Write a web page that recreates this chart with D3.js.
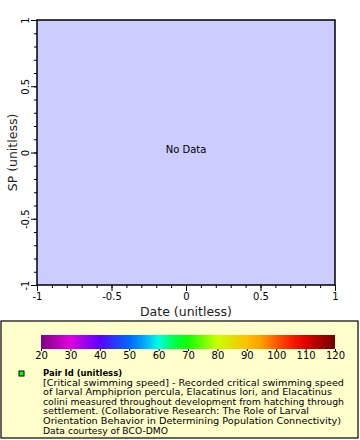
<!DOCTYPE html>
<html><head><meta charset="utf-8">
<script src="https://cdn.jsdelivr.net/npm/d3@7"></script>
<style>body{margin:0;background:#fff}svg{display:block;font-family:"DejaVu Sans",sans-serif}</style>
</head><body><svg id="c" width="360" height="440"></svg>
<script>
const xTicks = [-1, -0.5, 0, 0.5, 1];
const yTicks = [-1, -0.5, 0, 0.5, 1];
const xDomain = [-1, 1];
const yDomain = [-1, 1];
const xLabel = "Date (unitless)";
const yLabel = "SP (unitless)";
const noDataText = "No Data";
const cbTicks = [20, 30, 40, 50, 60, 70, 80, 90, 100, 110, 120];
const cbStopValues = [20, 30, 40, 45, 50, 55, 60, 65, 70, 80, 85, 90, 95, 100, 105, 110, 120];
const cbStopColors = ["#800080", "#e000e0", "#5a00ff", "#2838ff", "#0066ff", "#00a8ff", "#00ffe0", "#00ff50", "#10ff00", "#ccff00", "#e0e000", "#ffc000", "#ff9c00", "#ff5a00", "#f82000", "#e00000", "#700000"];
const legendTitle = "Pair Id (unitless)";
const legendLines = [
  "[Critical swimming speed] - Recorded critical swimming speed",
  "of larval Amphiprion percula, Elacatinus lori, and Elacatinus",
  "colini measured throughout development from hatching through",
  "settlement. (Collaborative Research: The Role of Larval",
  "Orientation Behavior in Determining Population Connectivity)",
  "Data courtesy of BCO-DMO"
];
const legendLineWidths = [301, 289, 301, 266, 298, 125];

const fmt = d => String(d);
const svg = d3.select("#c");
const L = 37, R = 335, T = 20, B = 285;
const x = d3.scaleLinear().domain(xDomain).range([L, R]);
const y = d3.scaleLinear().domain(yDomain).range([B, T]);

svg.append("rect").attr("x", L).attr("y", T).attr("width", R - L).attr("height", B - T)
  .attr("fill", "#ccccff");

const xMinor = d3.range(-10, 11).map(i => i / 10);
const yMinor = d3.range(-10, 11).map(i => i / 10);
const gx = svg.append("g").attr("transform", `translate(0,${B})`)
  .call(d3.axisBottom(x).tickValues(xMinor).tickSize(3).tickFormat(""));
const gy = svg.append("g").attr("transform", `translate(${L},0)`)
  .call(d3.axisLeft(y).tickValues(yMinor).tickSize(3).tickFormat(""));
[gx, gy].forEach(g => { g.select(".domain").remove(); g.selectAll("line").attr("stroke", "#000"); });

const gxM = svg.append("g").attr("transform", `translate(0,${B})`)
  .call(d3.axisBottom(x).tickValues(xTicks).tickSize(6).tickPadding(2).tickFormat(fmt));
gxM.select(".domain").remove();
gxM.selectAll("line").attr("stroke", "#000");
gxM.selectAll("text").attr("font-size", 10).attr("font-family", "DejaVu Sans").attr("fill", "#000");

const gyM = svg.append("g").attr("transform", `translate(${L},0)`)
  .call(d3.axisLeft(y).tickValues(yTicks).tickSize(6).tickPadding(2).tickFormat(fmt));
gyM.select(".domain").remove();
gyM.selectAll("line").attr("stroke", "#000");
gyM.selectAll("text").attr("font-size", 10).attr("font-family", "DejaVu Sans").attr("fill", "#000")
  .attr("x", null).attr("dy", null)
  .attr("text-anchor", "middle")
  .attr("transform", "translate(-12,0) rotate(-90)")
  .attr("y", 0).attr("dy", "0.35em");

svg.append("rect").attr("x", L).attr("y", T).attr("width", R - L).attr("height", B - T)
  .attr("fill", "none").attr("stroke", "#000").attr("stroke-width", 1.5);

svg.append("text").attr("x", (L + R) / 2).attr("y", 316).attr("text-anchor", "middle")
  .attr("font-size", 12.5).attr("fill", "#222").text(xLabel);
svg.append("text").attr("transform", `translate(17,${(T + B) / 2}) rotate(-90)`).attr("text-anchor", "middle")
  .attr("font-size", 12.5).attr("fill", "#222").text(yLabel);
svg.append("text").attr("x", (L + R) / 2).attr("y", 153).attr("text-anchor", "middle")
  .attr("font-size", 10).text(noDataText);

// legend
svg.append("rect").attr("x", 1).attr("y", 321).attr("width", 357).attr("height", 117)
  .attr("fill", "#ffffcc").attr("stroke", "#000").attr("stroke-width", 1.2);

const cb = d3.scaleLinear().domain([20, 120]).range([41, 335]);
const grad = svg.append("defs").append("linearGradient").attr("id", "cbg")
  .attr("x1", "0%").attr("x2", "100%");
cbStopValues.forEach((v, i) => {
  grad.append("stop").attr("offset", ((v - 20) / 100 * 100) + "%").attr("stop-color", cbStopColors[i]);
});
svg.append("rect").attr("x", cb(20)).attr("y", 335).attr("width", cb(120) - cb(20)).attr("height", 14)
  .attr("fill", "url(#cbg)");
const gcb = svg.append("g").attr("transform", "translate(0,349)")
  .call(d3.axisBottom(cb).tickValues(cbTicks).tickSize(2).tickPadding(1).tickFormat(fmt));
gcb.select(".domain").remove();
gcb.selectAll("line").attr("stroke", "#000");
gcb.selectAll("text").attr("font-size", 10).attr("font-family", "DejaVu Sans").attr("fill", "#000");

svg.append("rect").attr("x", 19).attr("y", 371).attr("width", 5).attr("height", 5)
  .attr("fill", "#00ff00").attr("stroke", "#000").attr("stroke-width", 1);
svg.append("text").attr("x", 43).attr("y", 376).attr("font-size", 9).attr("font-weight", "bold")
  .attr("textLength", 79).attr("lengthAdjust", "spacingAndGlyphs").text(legendTitle);
legendLines.forEach((t, i) => {
  svg.append("text").attr("x", 43).attr("y", 385.5 + i * 9.6).attr("font-size", 9)
    .attr("textLength", legendLineWidths[i]).attr("lengthAdjust", "spacingAndGlyphs").text(t);
});
</script></body></html>
